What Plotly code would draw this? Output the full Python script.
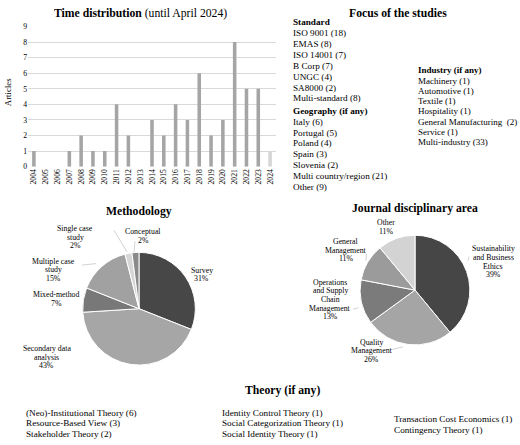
import plotly.graph_objects as go

# ---- data ----
years = [str(y) for y in range(2004, 2025)]
articles = [1, 0, 0, 1, 2, 1, 1, 4, 2, 0, 3, 2, 4, 3, 6, 2, 3, 8, 5, 5, 1]

standards = ["ISO 9001", "EMAS", "ISO 14001", "B Corp", "UNGC", "SA8000", "Multi-standard"]
standard_counts = [18, 8, 7, 7, 4, 2, 8]
geographies = ["Italy", "Portugal", "Poland", "Spain", "Slovenia", "Multi country/region", "Other"]
geography_counts = [6, 5, 4, 3, 2, 21, 9]
industries = ["Machinery", "Automotive", "Textile", "Hospitality", "General Manufacturing ", "Service",
              "Multi-industry"]
industry_counts = [1, 1, 1, 1, 2, 1, 33]

methods = ["Survey", "Secondary data\nanalysis", "Mixed-method", "Multiple case\nstudy",
           "Single case\nstudy", "Conceptual"]
method_pct = [31, 43, 7, 15, 2, 2]

journals = ["Sustainability\nand Business\nEthics", "Quality\nManagement",
            "Operations\nand Supply\nChain\nManagement", "General\nManagement", "Other"]
journal_pct = [39, 26, 13, 11, 11]

theories = [
    [("(Neo)-Institutional Theory", 6), ("Resource-Based View", 3), ("Stakeholder Theory", 2)],
    [("Identity Control Theory", 1), ("Social Categorization Theory", 1), ("Social Identity Theory", 1)],
    [("Transaction Cost Economics", 1), ("Contingency Theory", 1)],
]

W, H = 520, 445
FONT = "Liberation Serif"


def px(x):
    return x / W


def py(y):
    return 1 - y / H


annotations = []


def text(x, y, s, size=9.2, anchor="left"):
    annotations.append(dict(x=px(x), y=py(y), xref="paper", yref="paper", text=s, showarrow=False,
                            xanchor=anchor, yanchor="middle", borderpad=0,
                            font=dict(family=FONT, size=size, color="black")))


def lines(x, y, rows, step, size=9.2, anchor="left"):
    for i, r in enumerate(rows):
        text(x, y + i * step, r, size, anchor)


fig = go.Figure()

# Time distribution bars
bar_colors = ["#a5a5a5"] * (len(years) - 1) + ["#d6d6d6"]
fig.add_trace(go.Bar(x=years, y=articles, marker=dict(color=bar_colors, line_width=0),
                     xaxis="x", yaxis="y", hoverinfo="skip"))

# Pies
gray6 = ["#474747", "#a6a6a6", "#787878", "#a1a1a1", "#d6d6d6", "#8a8a8a"]
fig.add_trace(go.Pie(labels=methods, values=method_pct, sort=False, direction="clockwise", rotation=0,
                     marker=dict(colors=gray6, line=dict(color="white", width=1)),
                     textinfo="none", hoverinfo="skip",
                     domain=dict(x=[px(81.5), px(196.5)], y=[py(368.5), py(253.5)])))
fig.add_trace(go.Pie(labels=journals, values=journal_pct, sort=False, direction="clockwise", rotation=0,
                     marker=dict(colors=["#464646", "#a5a5a5", "#7b7b7b", "#9b9b9b", "#d3d3d3"],
                                 line=dict(color="white", width=1)),
                     textinfo="none", hoverinfo="skip",
                     domain=dict(x=[px(359), px(471)], y=[py(348), py(236)])))

# Titles
text(140, 10, "<b>Time distribution</b> (until April 2024)", 11.7, "center")
text(398, 10, "<b>Focus of the studies</b>", 11.7, "center")
text(139, 212, "<b>Methodology</b>", 11.7, "center")
text(415, 209, "<b>Journal disciplinary area</b>", 11.7, "center")
text(282, 394, "<b>Theory (if any)</b>", 11.7, "center")

annotations.append(dict(x=px(8), y=py(90), xref="paper", yref="paper", text="Articles", showarrow=False,
                        textangle=-90, xanchor="center", yanchor="middle",
                        font=dict(family=FONT, size=8.8, color="black")))

# Focus of the studies
lines(292, 18.7, ["<b>Standard</b>"] + [f"{s} ({c})" for s, c in zip(standards, standard_counts)], 11.1)
lines(292, 109.3, ["<b>Geography (if any)</b>"] + [f"{g} ({c})" for g, c in zip(geographies, geography_counts)],
      11.0)
lines(417, 67.7, ["<b>Industry (if any)</b>"] + [f"{s} ({c})" for s, c in zip(industries, industry_counts)],
      10.5, 9.0)

# Pie labels
method_pos = [(201.7, 271.7), (46.7, 351.7), (56, 296.7), (53.3, 262.7), (75, 229.3), (143, 232.7)]
for (x, y), lab, p in zip(method_pos, methods, method_pct):
    lines(x, y, lab.split("\n") + [f"{p}%"], 8.6, 7.8, "center")

journal_pos = [(493, 250), (371.7, 345), (330, 284), (346, 242.3), (386, 223.3)]
for (x, y), lab, p in zip(journal_pos, journals, journal_pct):
    lines(x, y, lab.split("\n") + [f"{p}%"], 8.8, 7.8, "center")

# Theory
for x, y0, col in zip([25, 221, 392.7], [417, 417, 423.3], theories):
    lines(x, y0, [f"{t} ({c})" for t, c in col], 11.0)

# leader lines
leaders = [(114, 231, 127, 253), (135, 242, 134, 253), (82, 266.5, 96, 265),
           (469, 258, 468, 262), (366.5, 255, 366, 262), (390, 353, 403, 350), (353, 311.5, 358.5, 310)]
shapes = [dict(type="line", xref="paper", yref="paper", x0=px(a), y0=py(b), x1=px(c), y1=py(d),
               line=dict(color="#c8c8c8", width=0.8)) for a, b, c, d in leaders]

fig.update_layout(
    width=W, height=H, margin=dict(l=0, r=0, t=0, b=0),
    paper_bgcolor="white", plot_bgcolor="white", showlegend=False,
    bargap=0.7,
    xaxis=dict(domain=[px(28), px(276)], type="category", tickangle=-90, showgrid=False, zeroline=False,
               showline=False, ticks="", tickfont=dict(family=FONT, size=7.7, color="black")),
    yaxis=dict(domain=[py(166), py(23)], range=[0, 9], dtick=1, showgrid=True, gridcolor="#d9d9d9",
               gridwidth=1, zeroline=False, showline=False, ticks="",
               tickfont=dict(family=FONT, size=7.7, color="black")),
    annotations=annotations, shapes=shapes,
)

# drop the default page margin so the figure sits in the window's corner
fig.write_html("out.html", config={"displayModeBar": False},
               post_script="document.body.style.margin = '0';")
